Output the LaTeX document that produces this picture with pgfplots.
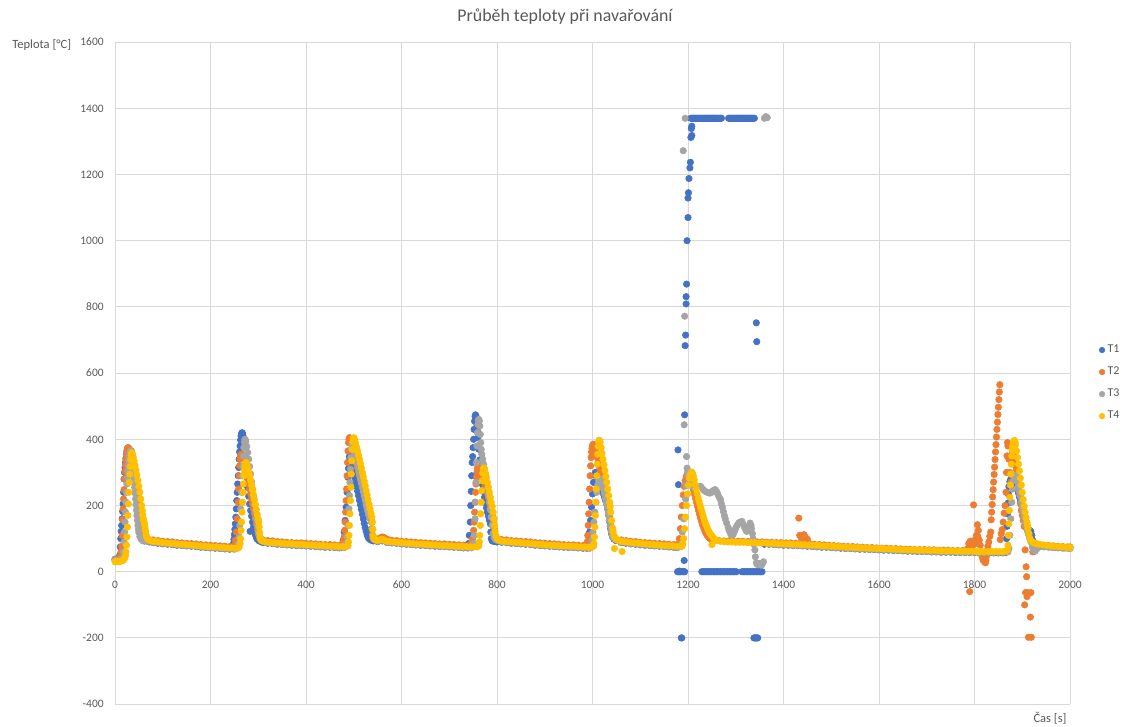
\documentclass[border=0pt]{standalone}
\usepackage{fontspec}
\setmainfont{Carlito}
\usepackage{pgfplots}
\pgfplotsset{compat=1.18}
\definecolor{t1}{HTML}{4472C4}
\definecolor{t2}{HTML}{ED7D31}
\definecolor{t3}{HTML}{A5A5A5}
\definecolor{t4}{HTML}{FFC000}
\definecolor{txt}{HTML}{595959}
\definecolor{gridc}{HTML}{D9D9D9}
\begin{document}
\begin{tikzpicture}
\useasboundingbox (0,0) rectangle (847.5pt,544.5pt);
\begin{axis}[
  at={(86.25pt,16.4pt)}, anchor=south west,
  scale only axis, width=716.25pt, height=496.5pt,
  xmin=0, xmax=2000, ymin=-400, ymax=1600,
  xtick distance=200, ytick distance=200,
  grid=major, major grid style={gridc, line width=0.75pt},
  axis line style={draw=none}, major tick length=0pt,
  ticklabel style={font=\fontsize{8.6}{10}\selectfont, text=txt},
  /pgf/number format/assume math mode=true,
  /pgf/number format/1000 sep={},
  xticklabel style={yshift=96pt},
  yticklabel style={xshift=-5pt},
  every axis plot/.append style={only marks, mark=*, mark size=2.45pt},
  legend style={at={(1.0426,0.485)}, anchor=center, draw=none, fill=none,
    font=\fontsize{9}{10}\selectfont, text=txt, row sep=5.2pt},
  legend cell align=left,
  legend image code/.code={\draw[#1, mark size=2.1pt] plot coordinates {(0pt,0pt)};},
]
% T1
\addplot[t1] coordinates {
(0,38) (3,38) (6,39) (8,41) (10,50) (11,75) (12,100) (13,122) (14,140) (15,160) (16,182) (17,205) (18,240) (19,280) (20,300) (21,315) (22,330) (23,343) (24,355) (25,365) (26,372) (27,374) (28,373) (30,370) (32,364) (34,356) (36,345) (38,331) (40,315) (42,297) (44,277) (46,255) (48,231) (50,205) (52,180) (54,156) (56,134) (58,116) (60,105) (63,97) (67,93) (72,90)
(80,88) (90,86) (100,84) (110,83) (120,82) (130,80) (140,79) (150,78) (160,77) (170,76) (180,74) (190,73) (200,72) (210,71) (220,70) (230,69) (240,68) (246,70)
(248,85) (249,98) (250,112) (251,128) (252,145) (253,165) (254,190) (255,215) (256,240) (257,265) (258,290) (259,315) (260,340) (261,362) (262,380) (263,398) (264,410) (265,417) (266,420) (267,418) (268,410) (269,398) (270,382) (272,350) (274,318) (276,285) (278,255) (280,228) (282,205) (283,122) (284,185) (286,168) (288,150) (290,135) (292,122) (294,112) (296,104) (298,98) (301,94) (305,91)
(310,88) (320,86) (330,85) (340,83) (350,82) (360,81) (370,80) (380,79) (390,79) (400,78) (410,77) (420,76) (430,75) (440,74) (450,74) (460,73) (470,72)
(474,74) (476,80) (478,95) (480,120) (482,155) (484,195) (486,240) (488,285) (489,312) (490,333) (491,346) (492,352) (493,350) (494,342) (496,328) (498,314) (500,300) (502,286) (504,272) (506,258) (508,244) (510,230) (512,216) (514,202) (516,188) (518,174) (520,160) (522,146) (524,133) (526,122) (528,112) (530,104) (533,98) (537,95) (541,93)
(550,91) (560,93) (570,88) (580,87) (590,86) (600,84) (610,83) (620,82) (630,81) (640,80) (650,79) (660,78) (670,77) (680,76) (690,76) (700,75) (710,74) (720,73) (730,72) (738,72)
(740,85) (742,110) (744,150) (745,200) (746,243) (747,290) (748,330) (749,348) (750,375) (751,400) (752,430) (753,455) (754,470) (755,474) (756,470) (757,460) (758,445) (759,425) (760,405) (762,370) (764,338) (766,310) (768,285) (770,262) (772,242) (774,225) (776,208) (778,193) (780,180) (782,168) (784,156) (786,145) (787,120) (788,100) (790,93) (795,91) (800,90)
(810,89) (820,88) (830,86) (840,85) (850,84) (860,83) (870,82) (880,80) (890,79) (900,78) (910,77) (920,76) (930,75) (940,74) (950,73) (960,73) (970,72) (980,71) (988,71)
(990,80) (992,95) (994,120) (996,155) (998,195) (1000,235) (1002,270) (1004,292) (1006,300) (1008,297) (1010,292) (1012,285) (1014,276) (1016,268) (1018,259) (1020,250) (1022,240) (1024,231) (1026,222) (1028,213) (1030,204) (1032,190) (1034,170) (1036,150) (1038,130) (1040,115) (1042,105) (1045,98) (1049,94)
(1060,88) (1070,86) (1080,84) (1090,83) (1100,81) (1110,80) (1120,79) (1130,78) (1140,77) (1150,76) (1160,75) (1170,74) (1176,74)
(1178,0) (1179,368) (1180,263) (1181,0) (1182,2) (1183,0) (1184,0) (1186,-200) (1187,-200) (1188,0) (1190,1) (1191,0) (1192,34) (1193,0) (1193,474) (1194,683) (1195,715) (1196,809) (1196,831) (1197,869) (1198,1000) (1200,1070) (1200,1129) (1201,1145) (1202,1188) (1204,1220) (1205,1237) (1206,1312) (1207,1339) (1208,1318) (1208,1346)
(1206,1370) (1208,1370) (1210,1370) (1212,1370) (1214,1370) (1216,1370) (1218,1370) (1220,1370) (1222,1370) (1224,1370) (1226,1370) (1228,1370) (1230,1370) (1232,1370) (1234,1370) (1236,1370) (1238,1370) (1240,1370) (1242,1370) (1244,1370) (1246,1370) (1248,1370) (1250,1370) (1252,1370) (1254,1370) (1256,1370) (1258,1370) (1260,1370) (1262,1370) (1264,1370) (1266,1370) (1268,1370) (1270,1370)
(1285,1370) (1287,1370) (1289,1370) (1291,1370) (1293,1370) (1295,1370) (1297,1370) (1299,1370) (1301,1370) (1303,1370) (1305,1370) (1307,1370) (1309,1370) (1311,1370) (1313,1370) (1315,1370) (1317,1370) (1319,1370) (1321,1370) (1323,1370) (1325,1370) (1327,1370) (1329,1370) (1331,1370) (1333,1370) (1335,1370) (1337,1370) (1339,1370)
(1229,0) (1232,0) (1235,0) (1238,0) (1241,0) (1244,0) (1247,0) (1250,0) (1253,0) (1256,0) (1259,0) (1262,0) (1265,0) (1268,0) (1271,0) (1274,0) (1277,0) (1280,0) (1283,0) (1286,0) (1289,0) (1292,0) (1295,0) (1298,0) (1301,0)
(1313,0) (1316,0) (1319,0) (1322,0) (1325,0) (1328,0) (1331,0) (1334,0) (1337,0) (1340,0) (1343,0) (1346,0) (1349,0) (1352,0) (1355,0)
(1343,752) (1344,695) (1338,-200) (1340,-200) (1342,-200) (1344,-200) (1346,-200)
(1360,83) (1370,83) (1380,82) (1390,81) (1400,80) (1410,80) (1420,79) (1430,79) (1440,78) (1450,77) (1460,76) (1470,75) (1480,74) (1490,74) (1500,73) (1510,72) (1520,71) (1530,70) (1540,70) (1550,69) (1560,68) (1570,68) (1580,67) (1590,67) (1600,66) (1610,65) (1620,65) (1630,64) (1640,64) (1650,63) (1660,62) (1670,62) (1680,61) (1690,61) (1700,61) (1710,60) (1720,60) (1730,59) (1740,59) (1750,59) (1760,58) (1770,58) (1780,58) (1790,58) (1800,58) (1810,57) (1820,57) (1830,57) (1840,57) (1850,57) (1860,57) (1865,58)
(1866,62) (1867,100) (1868,137) (1869,175) (1870,207) (1871,235) (1872,257) (1874,272) (1876,280) (1878,286) (1880,290) (1882,288) (1884,282) (1886,274) (1888,262) (1890,250) (1892,238) (1894,226) (1896,214) (1898,202) (1900,190) (1902,178) (1904,166) (1906,155) (1908,143) (1910,131) (1912,126) (1914,125) (1916,125) (1918,122) (1920,110) (1922,95) (1925,85) (1930,80) (1940,78) (1950,76) (1960,75) (1970,74) (1980,73) (1990,72) (2000,72)
};
\addlegendentry{T1}
% T2
\addplot[t2] coordinates {
(0,37) (3,37) (6,38) (8,40) (10,44) (12,48) (13,60) (14,77) (15,110) (16,157) (17,190) (18,220) (19,248) (20,280) (21,303) (22,322) (23,338) (24,352) (25,363) (26,370) (27,374) (28,375) (29,372) (30,366) (32,349) (34,332) (36,315) (38,298) (40,280) (42,263) (44,245) (46,228) (48,210) (50,192) (52,172) (54,152) (56,136) (58,124) (60,114) (63,105) (67,100) (72,97)
(80,96) (90,94) (100,92) (110,91) (120,90) (130,88) (140,87) (150,86) (160,85) (170,84) (180,82) (190,81) (200,80) (210,79) (220,78) (230,77) (240,76) (248,76)
(250,80) (252,95) (254,120) (256,160) (258,210) (259,250) (260,290) (261,320) (262,340) (263,350) (264,355) (266,355) (268,350) (270,340) (272,325) (274,310) (276,295) (278,280) (280,265) (282,250) (284,235) (286,220) (288,205) (290,190) (292,175) (294,160) (296,145) (298,130) (300,115) (302,105) (305,98)
(310,96) (320,94) (330,93) (340,91) (350,90) (360,89) (370,88) (380,87) (390,87) (400,86) (410,85) (420,84) (430,83) (440,82) (450,82) (460,81) (470,80) (476,80)
(478,90) (480,105) (481,125) (482,150) (483,180) (484,215) (485,250) (486,290) (487,330) (488,365) (489,390) (490,400) (491,405) (492,404) (493,400) (494,395) (496,385) (498,373) (500,362) (502,350) (504,338) (506,326) (508,314) (510,302) (512,290) (514,278) (516,266) (518,254) (520,242) (522,230) (524,218) (526,206) (528,194) (530,182) (532,172) (534,163) (536,156) (537,150) (538,130) (539,112) (540,102) (543,99) (547,98)
(552,100) (556,103) (560,105) (564,103) (568,99) (574,96) (580,95) (590,94) (600,92) (610,91) (620,90) (630,89) (640,88) (650,87) (660,86) (670,85) (680,84) (690,84) (700,83) (710,82) (720,81) (730,80) (740,79) (745,79)
(747,88) (749,100) (751,125) (752,150) (753,180) (754,210) (755,240) (756,265) (757,285) (758,300) (759,312) (760,320) (761,324) (762,325) (763,324) (764,320) (766,312) (768,302) (770,292) (772,282) (774,271) (776,260) (778,248) (780,236) (782,224) (784,212) (786,198) (788,184) (790,170) (792,150) (794,130) (796,113) (798,104) (801,99) (805,97)
(810,97) (820,96) (830,94) (840,93) (850,92) (860,91) (870,90) (880,88) (890,87) (900,86) (910,85) (920,84) (930,83) (940,82) (950,81) (960,81) (970,80) (980,79) (986,79)
(988,82) (989,90) (990,110) (991,140) (992,175) (993,210) (994,250) (995,290) (996,320) (997,345) (998,362) (999,373) (1000,380) (1001,384) (1002,385) (1003,384) (1004,380) (1006,370) (1008,358) (1010,345) (1012,332) (1014,318) (1016,304) (1018,290) (1020,276) (1022,262) (1024,248) (1026,234) (1028,220) (1030,206) (1032,192) (1034,178) (1036,164) (1038,150) (1040,134) (1042,118) (1044,106) (1047,100) (1051,97)
(1060,96) (1070,94) (1080,92) (1090,91) (1100,89) (1110,88) (1120,87) (1130,86) (1140,85) (1150,84) (1160,83) (1170,82) (1178,81)
(1180,85) (1182,100) (1184,130) (1186,165) (1188,200) (1190,232) (1192,258) (1194,275) (1196,287) (1198,293) (1200,295) (1202,292) (1204,286) (1206,278) (1208,268) (1210,257) (1212,245) (1214,233) (1216,221) (1218,209) (1220,197) (1222,185) (1224,174) (1226,163) (1228,153) (1230,144) (1232,136) (1234,128) (1236,121) (1238,115) (1240,110) (1243,104) (1246,100) (1250,97) (1255,95)
(1265,94) (1275,93) (1285,93) (1295,92) (1305,92) (1315,92) (1325,91) (1335,91) (1345,90) (1355,90) (1365,89) (1375,89) (1385,88) (1395,88) (1405,87) (1415,87) (1425,86) (1432,162) (1434,110) (1437,104) (1440,100) (1443,112) (1446,105) (1450,98) (1435,86) (1445,85) (1455,84) (1465,83) (1475,82) (1485,81) (1495,80) (1505,79) (1515,78) (1525,77) (1535,76) (1545,76) (1555,75) (1565,74) (1575,73) (1585,73) (1595,72) (1605,71) (1615,71) (1625,70) (1635,70) (1645,69) (1655,68) (1665,68) (1675,67) (1685,67) (1695,67) (1705,66) (1715,66) (1725,65) (1735,65) (1745,65) (1755,64) (1765,64) (1775,64) (1782,64)
(1786,70) (1788,85) (1790,-60) (1791,92) (1793,80) (1795,75) (1797,90) (1798,202) (1800,95) (1802,85) (1804,110) (1806,142) (1807,107) (1808,125) (1810,95) (1812,80) (1814,60) (1816,45) (1818,35) (1820,47) (1821,30) (1823,27) (1824,35) (1826,50) (1828,77) (1830,90) (1832,107) (1834,120) (1835,157) (1836,180) (1837,203) (1838,226) (1839,248) (1840,271) (1841,294) (1842,316) (1843,339) (1844,362) (1845,384) (1846,407) (1847,430) (1848,452) (1849,475) (1850,497) (1851,520) (1852,543) (1853,565)
(1854,97) (1856,115) (1858,127) (1860,150) (1862,177) (1864,200) (1866,240) (1867,300) (1868,350) (1869,390) (1870,380) (1872,340) (1874,300) (1876,270) (1878,330) (1880,360) (1882,350) (1884,340) (1886,320) (1888,308) (1890,285) (1892,257) (1894,235) (1896,207) (1898,185) (1900,170) (1902,155) (1904,137) (1905,-100) (1906,66) (1907,-63) (1908,15) (1909,-15) (1910,-75) (1911,-63) (1913,-198) (1917,-137) (1918,-63) (1919,-198) (1922,60) (1926,82) (1935,82) (1945,80) (1955,79) (1965,78) (1975,77) (1985,76) (1995,75) (2000,75)
};
\addlegendentry{T2}
% T3
\addplot[t3] coordinates {
(0,35) (3,35) (6,35) (9,36) (12,37) (15,40) (17,45) (18,60) (19,90) (20,120) (21,150) (22,180) (23,210) (24,240) (25,265) (26,285) (27,305) (28,322) (29,337) (30,348) (31,356) (32,362) (33,365) (34,366) (35,364) (36,350) (37,330) (38,310) (39,290) (40,272) (41,255) (42,238) (43,220) (44,203) (45,186) (46,170) (47,155) (48,140) (49,128) (50,118) (52,106) (55,98) (58,94) (62,92)
(70,92) (80,89) (90,87) (100,85) (110,84) (120,83) (130,81) (140,80) (150,79) (160,78) (170,77) (180,75) (190,74) (200,73) (210,72) (220,71) (230,70) (240,69) (250,68) (254,70)
(256,74) (258,85) (260,105) (261,140) (263,190) (265,240) (267,290) (268,320) (269,350) (270,375) (271,392) (272,400) (273,399) (274,393) (276,378) (278,360) (280,340) (282,318) (284,295) (286,272) (288,249) (290,226) (292,204) (294,182) (296,160) (298,140) (300,122) (302,110) (304,102) (307,96) (312,92)
(320,87) (330,86) (340,84) (350,83) (360,82) (370,81) (380,80) (390,80) (400,79) (410,78) (420,77) (430,76) (440,75) (450,75) (460,74) (470,73) (480,73)
(482,76) (484,85) (486,105) (488,140) (490,190) (491,230) (492,270) (493,310) (494,345) (495,370) (496,383) (497,385) (498,382) (500,372) (502,360) (504,347) (506,334) (508,321) (510,308) (512,295) (514,282) (516,269) (518,256) (520,243) (522,230) (524,217) (526,204) (528,192) (530,181) (532,171) (534,162) (536,156) (538,152) (539,130) (540,110) (542,99) (545,96)
(550,92) (560,94) (570,89) (580,88) (590,87) (600,85) (610,84) (620,83) (630,82) (640,81) (650,80) (660,79) (670,78) (680,77) (690,77) (700,76) (710,75) (720,74) (730,73) (740,72) (746,72)
(748,75) (750,85) (752,110) (754,160) (755,210) (756,270) (757,330) (758,380) (759,420) (760,445) (761,458) (762,460) (763,455) (764,440) (765,415) (766,390) (767,370) (768,355) (770,340) (772,325) (774,310) (776,292) (778,272) (780,252) (782,232) (784,210) (786,188) (788,165) (790,140) (792,115) (794,104) (797,97) (802,94)
(810,90) (820,89) (830,87) (840,86) (850,85) (860,84) (870,83) (880,81) (890,80) (900,79) (910,78) (920,77) (930,76) (940,75) (950,74) (960,74) (970,73) (980,72) (990,71) (994,71)
(995,72) (997,80) (999,95) (1001,120) (1003,150) (1005,180) (1007,210) (1009,240) (1011,262) (1013,275) (1015,280) (1017,278) (1019,272) (1021,262) (1023,250) (1025,236) (1027,222) (1029,206) (1031,190) (1033,172) (1035,155) (1037,138) (1039,122) (1041,110) (1044,101) (1048,97)
(1060,89) (1070,87) (1080,85) (1090,84) (1100,82) (1110,81) (1120,80) (1130,79) (1140,78) (1150,77) (1160,76) (1170,75) (1180,74) (1185,76)
(1186,85) (1188,120) (1190,1272) (1191,160) (1192,444) (1193,772) (1194,1370) (1195,220) (1196,260) (1197,348) (1198,313) (1199,300) (1200,290) (1202,275) (1205,262) (1210,255) (1215,252) (1220,256) (1226,258) (1228,255) (1232,248) (1236,243) (1240,240) (1244,238) (1247,238) (1250,241) (1252,244) (1255,247) (1257,248) (1260,242) (1262,235) (1265,226) (1268,218) (1270,205) (1272,195) (1274,182) (1276,170) (1278,160) (1281,147) (1284,134) (1286,125) (1289,115) (1292,108) (1294,112) (1296,118) (1298,125) (1300,132) (1303,140) (1306,147) (1309,150) (1313,152) (1316,142) (1318,135) (1321,126) (1323,122) (1325,128) (1327,135) (1330,147) (1332,140) (1333,130) (1335,115) (1336,100) (1338,83) (1340,66) (1341,45) (1343,27) (1345,22) (1347,22) (1349,25) (1351,24) (1353,20) (1355,22) (1358,30) (1360,1370) (1363,1375) (1366,1372)
(1370,84) (1380,83) (1390,82) (1400,81) (1410,81) (1420,80) (1430,80) (1440,79) (1450,78) (1460,77) (1470,76) (1480,75) (1490,75) (1500,74) (1510,73) (1520,72) (1530,71) (1540,71) (1550,70) (1560,69) (1570,69) (1580,68) (1590,68) (1600,67) (1610,66) (1620,66) (1630,65) (1640,65) (1650,64) (1660,63) (1670,63) (1680,62) (1690,62) (1700,62) (1710,61) (1720,61) (1730,60) (1740,60) (1750,60) (1760,59) (1770,59) (1780,59) (1790,59) (1800,59) (1810,58) (1820,58) (1830,58) (1840,58) (1850,58) (1860,58) (1870,60)
(1872,70) (1874,110) (1876,160) (1878,210) (1880,250) (1882,275) (1884,286) (1886,290) (1888,285) (1890,272) (1892,258) (1894,243) (1896,228) (1898,213) (1900,198) (1902,183) (1904,168) (1906,153) (1908,140) (1910,128) (1912,118) (1914,110) (1916,100) (1918,90) (1921,75) (1924,66) (1927,62) (1930,68) (1935,74) (1945,75) (1955,74) (1965,73) (1975,72) (1985,71) (1995,71) (2000,70)
};
\addlegendentry{T3}
% T4
\addplot[t4] coordinates {
(0,30) (2,30) (4,31) (6,31) (8,31) (10,32) (12,32) (14,33) (16,34) (18,36) (20,40) (22,48) (23,60) (24,80) (25,105) (26,135) (27,170) (28,205) (29,240) (30,270) (31,295) (32,318) (33,338) (34,352) (35,360) (36,358) (37,352) (38,346) (40,335) (42,322) (44,308) (46,292) (48,276) (50,258) (52,240) (54,220) (56,200) (57,185) (58,172) (59,162) (60,155) (61,150) (62,142) (63,132) (64,122) (65,112) (66,106) (68,100) (70,97) (73,95) (76,93)
(80,92) (86,91) (92,90) (100,88) (108,87) (116,86) (124,85) (132,84) (140,83) (148,82) (156,81) (164,80) (172,79) (180,78) (188,77) (196,76) (204,75) (212,75) (220,74) (228,73) (236,72) (244,72) (250,71) (255,71) (258,72) (260,75)
(262,85) (263,100) (264,125) (265,150) (266,180) (267,210) (268,240) (269,265) (270,290) (271,308) (272,320) (273,328) (274,330) (275,329) (276,325) (278,314) (280,302) (282,290) (284,276) (286,262) (288,248) (290,233) (292,218) (294,203) (296,188) (298,172) (300,158) (301,150) (302,135) (303,118) (304,104) (305,97) (307,94)
(310,92) (316,90) (324,89) (332,88) (340,87) (348,86) (356,85) (364,85) (372,84) (380,83) (388,83) (396,82) (404,81) (412,81) (420,80) (428,79) (436,79) (444,78) (452,77) (460,77) (468,76) (476,76) (484,76) (488,78)
(489,90) (490,110) (491,140) (492,175) (493,215) (494,255) (495,295) (496,335) (497,370) (498,392) (499,402) (500,405) (501,402) (502,398) (504,388) (506,376) (508,364) (510,352) (512,340) (514,327) (516,314) (518,300) (520,287) (522,273) (524,260) (526,246) (528,232) (530,218) (532,204) (534,190) (536,177) (538,166) (539,150) (540,128) (541,108) (542,100) (544,97) (547,96)
(550,95) (554,96) (558,98) (562,97) (566,94) (570,92) (576,91) (584,90) (592,89) (600,88) (608,87) (616,86) (624,85) (632,84) (640,84) (648,83) (656,82) (664,81) (672,81) (680,80) (688,79) (696,79) (704,78) (712,77) (720,77) (728,76) (736,76) (744,75) (752,75) (758,75) (762,78)
(763,90) (764,110) (765,140) (766,175) (767,210) (768,245) (769,275) (770,298) (771,310) (772,313) (773,312) (774,308) (776,298) (778,285) (780,270) (782,255) (784,240) (786,225) (788,210) (790,197) (792,180) (794,160) (795,140) (796,122) (798,108) (800,100) (802,97)
(805,95) (810,93) (816,92) (824,91) (832,90) (840,89) (848,88) (856,87) (864,86) (872,85) (880,84) (888,83) (896,82) (904,81) (912,80) (920,80) (928,79) (936,78) (944,78) (952,77) (960,77) (968,76) (976,75) (984,75) (992,74) (998,74) (1002,77)
(1003,85) (1004,105) (1005,135) (1006,170) (1007,210) (1008,250) (1009,290) (1010,325) (1011,355) (1012,378) (1013,392) (1014,397) (1015,396) (1016,390) (1018,375) (1020,358) (1022,340) (1024,323) (1026,306) (1028,288) (1030,270) (1032,250) (1034,230) (1036,210) (1037,197) (1038,180) (1040,155) (1042,132) (1043,122) (1045,110) (1047,103) (1050,98) (1062,61) (1046,70)
(1053,95) (1056,94) (1060,92) (1066,91) (1072,90) (1080,88) (1088,87) (1096,86) (1104,85) (1112,84) (1120,83) (1128,82) (1136,81) (1144,80) (1152,79) (1160,79) (1168,78) (1176,77) (1184,77) (1188,78)
(1189,85) (1191,100) (1193,130) (1195,165) (1197,200) (1199,235) (1201,262) (1203,283) (1205,295) (1207,300) (1208,301) (1209,298) (1211,290) (1213,278) (1215,264) (1217,250) (1219,236) (1221,224) (1223,213) (1225,202) (1227,192) (1229,182) (1231,172) (1233,162) (1235,152) (1237,144) (1239,137) (1241,130) (1243,124) (1245,118) (1247,114) (1249,110) (1252,104) (1255,99) (1258,96) (1262,94) (1268,92) (1250,82)
(1276,91) (1284,90) (1292,90) (1300,89) (1308,89) (1316,89) (1324,88) (1332,88) (1340,88) (1348,87) (1356,87) (1364,86) (1372,86) (1380,86) (1388,85) (1396,85) (1404,84) (1412,84) (1420,83) (1428,83) (1436,82) (1444,82) (1452,81) (1460,80) (1468,80) (1476,79) (1484,78) (1492,78) (1500,77) (1508,76) (1516,76) (1524,75) (1532,74) (1540,74) (1548,73) (1556,73) (1564,72) (1572,72) (1580,71) (1588,71) (1596,70) (1604,70) (1612,69) (1620,69) (1628,68) (1636,68) (1644,67) (1652,67) (1660,66) (1668,66) (1676,66) (1684,65) (1692,65) (1700,65) (1708,64) (1716,64) (1724,64) (1732,63) (1740,63) (1748,63) (1756,63) (1764,62) (1772,62) (1780,62) (1788,62) (1796,62) (1804,61) (1812,61) (1820,61) (1828,61) (1836,61) (1844,61) (1852,61) (1860,61) (1866,62) (1869,66)
(1870,80) (1871,110) (1872,145) (1873,185) (1874,225) (1875,262) (1876,295) (1877,325) (1878,350) (1879,368) (1880,380) (1881,388) (1882,393) (1883,396) (1884,396) (1885,392) (1886,383) (1888,365) (1890,345) (1892,325) (1894,305) (1896,283) (1898,262) (1900,240) (1902,218) (1904,198) (1906,180) (1908,163) (1910,148) (1911,140) (1912,130) (1914,115) (1916,100) (1918,94) (1921,90) (1925,87)
(1930,85) (1936,83) (1944,81) (1952,80) (1960,78) (1968,77) (1976,76) (1984,75) (1992,74) (2000,73)
};
\addlegendentry{T4}
\end{axis}
\node[font=\fontsize{13.4}{16}\selectfont, text=txt] at (423.75pt,531.75pt) {Průběh teploty při navařování};
\node[font=\fontsize{9.4}{11}\selectfont, text=txt] at (31.3pt,510.75pt) {Teplota [°C]};
\node[font=\fontsize{9.4}{11}\selectfont, text=txt] at (787.5pt,6pt) {Čas [s]};
\end{tikzpicture}
\end{document}
